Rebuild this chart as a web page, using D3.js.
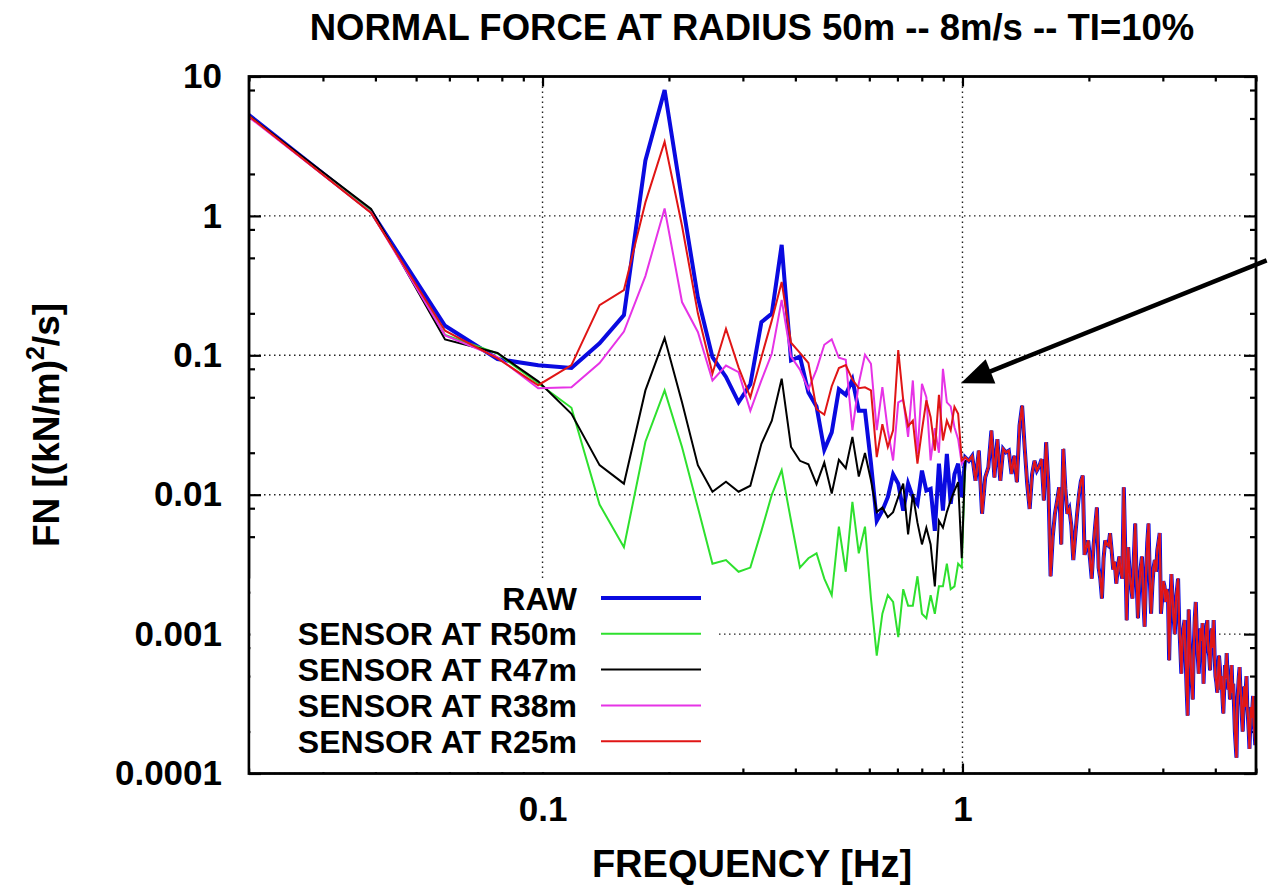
<!DOCTYPE html>
<html lang="en">
<head>
<meta charset="UTF-8">
<title>Normal force at radius 50m</title>
<style>
  body { margin: 0; background: #fff; }
  svg text { font-family: "Liberation Sans", Arial, Helvetica, sans-serif; font-weight: bold; fill: #000; }
</style>
</head>
<body>
<div id="chart"></div>
<script src="https://cdn.jsdelivr.net/npm/d3@7"></script>
<script>
  // frequency step of the spectra (Hz); sample k sits at k * DF
  const DF = 1 / 51.2;

  // k = 1..51 (up to ~1 Hz), one array per curve
  const rawLow = [5.6, 1.08, 0.163, 0.094, 0.085, 0.081, 0.122, 0.194, 2.5, 8.0,
    1.3, 0.26, 0.097, 0.070, 0.046, 0.062, 0.173, 0.199, 0.62, 0.092,
    0.098, 0.054, 0.043, 0.021, 0.028, 0.057, 0.052, 0.067, 0.040, 0.040,
    0.0168, 0.0065, 0.0077, 0.0096, 0.014, 0.012, 0.0077, 0.012, 0.0096, 0.0086,
    0.0149, 0.0107, 0.011, 0.0055, 0.0167, 0.0077, 0.0196, 0.0086, 0.014, 0.0167, 0.0096];

  const r50Low = [5.5, 1.08, 0.14, 0.103, 0.063, 0.042, 0.0085, 0.0042, 0.024, 0.056,
    0.022, 0.0081, 0.0032, 0.0034, 0.0028, 0.0030, 0.0055, 0.0100, 0.015, 0.0065,
    0.0030, 0.0035, 0.0038, 0.0025, 0.0019, 0.0059, 0.0028, 0.0089, 0.0038, 0.0059,
    0.0018, 0.0007, 0.0014, 0.0019, 0.0017, 0.00095, 0.0021, 0.0016, 0.0016, 0.0026,
    0.0014, 0.0013, 0.0019, 0.0014, 0.0022, 0.0022, 0.0032, 0.0021, 0.0022, 0.0032, 0.003];

  const r47Low = [5.5, 1.12, 0.130, 0.104, 0.065, 0.038, 0.0163, 0.012, 0.056, 0.133,
    0.046, 0.0163, 0.0105, 0.0124, 0.0105, 0.0116, 0.0232, 0.034, 0.068, 0.022,
    0.0175, 0.0165, 0.0119, 0.017, 0.0102, 0.0178, 0.0155, 0.026, 0.0135, 0.0199,
    0.0127, 0.0075, 0.0081, 0.0069, 0.0075, 0.0096, 0.012, 0.0052, 0.0101, 0.0063,
    0.0044, 0.0058, 0.0044, 0.0022, 0.0065, 0.0058, 0.0075, 0.0091, 0.0107, 0.0123, 0.0035];

  const r38Low = [5.4, 1.06, 0.139, 0.097, 0.058, 0.059, 0.088, 0.148, 0.37, 1.13,
    0.241, 0.147, 0.066, 0.0845, 0.0757, 0.040, 0.066, 0.103, 0.25, 0.098,
    0.079, 0.057, 0.079, 0.119, 0.130, 0.096, 0.093, 0.029, 0.063, 0.101,
    0.087, 0.029, 0.059, 0.029, 0.0176, 0.046, 0.048, 0.026, 0.066, 0.0196,
    0.0625, 0.050, 0.0176, 0.03, 0.02, 0.080, 0.046, 0.043, 0.0305, 0.025, 0.0167];

  const r25Low = [5.5, 1.05, 0.150, 0.095, 0.061, 0.085, 0.229, 0.294, 1.25, 3.4,
    0.85, 0.2, 0.074, 0.155, 0.082, 0.050, 0.097, 0.178, 0.336, 0.123,
    0.104, 0.088, 0.041, 0.0375, 0.060, 0.081, 0.085, 0.067, 0.058, 0.059,
    0.056, 0.0186, 0.032, 0.022, 0.029, 0.109, 0.0475, 0.031, 0.034, 0.0167,
    0.029, 0.0475, 0.036, 0.0207, 0.052, 0.0245, 0.034, 0.029, 0.0427, 0.038, 0.0176];

  // k = 52..256 (1 - 5 Hz): all curves lie on top of each other here
  const hiBand = [0.0185, 0.0175, 0.019, 0.0126, 0.0207, 0.0073, 0.0133, 0.0157, 0.0288, 0.0133,
    0.025, 0.0126, 0.0213, 0.0201, 0.0207, 0.0141, 0.019, 0.0123, 0.0313, 0.0435,
    0.0219, 0.012, 0.0079, 0.014, 0.0175, 0.0149, 0.016, 0.018, 0.0091, 0.0238,
    0.0119, 0.0026, 0.005, 0.0073, 0.009, 0.0113, 0.0044, 0.0213, 0.011, 0.0073,
    0.0079, 0.006, 0.0034, 0.005, 0.0073, 0.010, 0.0125, 0.0137, 0.0037, 0.0042,
    0.0047, 0.0035, 0.0025, 0.0042, 0.006, 0.0081, 0.003, 0.0025, 0.0018, 0.0035,
    0.0047, 0.0044, 0.0043, 0.0053, 0.004, 0.0029, 0.0033, 0.0023, 0.003, 0.0036,
    0.0028, 0.0025, 0.0113, 0.004, 0.00126, 0.0042, 0.0028, 0.0022, 0.0018, 0.0035,
    0.0062, 0.0025, 0.0013, 0.0022, 0.003, 0.0036, 0.0018, 0.00113, 0.0025, 0.0045,
    0.0062, 0.0025, 0.0014, 0.0022, 0.003, 0.0034, 0.0028, 0.004, 0.0046, 0.0053,
    0.0014, 0.0018, 0.0024, 0.0022, 0.0017, 0.0021, 0.0019, 0.00065, 0.0016, 0.0027,
    0.0018, 0.0013, 0.001, 0.0017, 0.0021, 0.0025, 0.0012, 0.0008, 0.00052, 0.0009,
    0.0011, 0.00126, 0.0007, 0.0004, 0.00026, 0.0015, 0.0009, 0.0006, 0.00045, 0.00034,
    0.0008, 0.0013, 0.0017, 0.001, 0.0007, 0.00052, 0.0008, 0.0011, 0.0009, 0.0012,
    0.00044, 0.0007, 0.0009, 0.0011, 0.00126, 0.0008, 0.0007, 0.00055, 0.0009, 0.0011,
    0.0008, 0.00126, 0.0007, 0.0005, 0.00045, 0.00038, 0.0005, 0.0007, 0.00058, 0.0004,
    0.0005, 0.00035, 0.00027, 0.0004, 0.0006, 0.00048, 0.00073, 0.0005, 0.0004, 0.00045,
    0.00034, 0.0005, 0.0006, 0.00038, 0.00044, 0.0003, 0.0002, 0.00016, 0.00013, 0.0003,
    0.0004, 0.0005, 0.00058, 0.0004, 0.00035, 0.00025, 0.0002, 0.0003, 0.00042, 0.0003,
    0.0004, 0.0005, 0.0003, 0.00025, 0.0002, 0.00015, 0.00022, 0.0003, 0.00025, 0.0003,
    0.00036, 0.00022, 0.0002, 0.00016, 0.00017];

  const seriesNames = ['RAW', 'SENSOR AT R50m', 'SENSOR AT R47m', 'SENSOR AT R38m', 'SENSOR AT R25m'];
  const seriesLow = [rawLow, r50Low, r47Low, r38Low, r25Low];
  const seriesColors = ['#0a0ae0', '#2ee02e', '#000000', '#e633e6', '#e01515'];
  const seriesWidths = [4, 2, 2, 2, 2];

  const xMajor = [0.1, 1];
  const yMajor = [0.0001, 0.001, 0.01, 0.1, 1, 10];

  const W = 1268, H = 888;
  const margin = {top: 76.5, right: 12, bottom: 114.5, left: 249};
  const width = W - margin.left - margin.right,
    height = H - margin.top - margin.bottom;

  const svg = d3.select('#chart').append('svg')
    .attr('width', W).attr('height', H);

  const g = svg.append('g')
    .attr('transform', 'translate(' + margin.left + ',' + margin.top + ')');

  const x = d3.scaleLog().domain([0.02, 5]).range([0, width]);
  const y = d3.scaleLog().domain([0.0001, 10]).range([height, 0]);

  // minor tick positions
  const xMinor = [];
  [0.01, 0.1, 1].forEach(function (d) {
    for (let m = 2; m <= 9; m++) {
      const v = +(d * m).toPrecision(3);
      if (v >= 0.02 && v <= 5) xMinor.push(v);
    }
  });
  const yMinor = [];
  [0.0001, 0.001, 0.01, 0.1, 1].forEach(function (d) {
    [2, 5, 8].forEach(function (m) { yMinor.push(+(d * m).toPrecision(3)); });
  });

  // grid
  const grid = g.append('g').attr('class', 'grid');
  grid.selectAll('line.gx').data(xMajor).enter().append('line')
    .attr('x1', d => x(d)).attr('x2', d => x(d))
    .attr('y1', 0).attr('y2', height);
  grid.selectAll('line.gy').data(yMajor).enter().append('line')
    .attr('x1', 0).attr('x2', width)
    .attr('y1', d => y(d)).attr('y2', d => y(d));
  grid.selectAll('line')
    .attr('stroke', '#222').attr('stroke-width', 1.4)
    .attr('stroke-dasharray', '1.5,3.5');

  // axes with inward ticks
  function styleAxis(sel) {
    sel.select('.domain').remove();
    sel.selectAll('.tick line').attr('stroke', '#000').attr('stroke-width', 2.2);
    sel.selectAll('.tick text')
      .style('font-family', '"Liberation Sans", Arial, sans-serif')
      .style('font-weight', 'bold').attr('fill', '#000');
  }

  g.append('g').attr('transform', 'translate(0,' + height + ')')
    .call(d3.axisBottom(x).tickValues(xMajor).tickSize(-10).tickPadding(23)
      .tickFormat(d3.format('')))
    .attr('font-size', 35)
    .call(styleAxis);
  g.append('g').attr('transform', 'translate(0,' + height + ')')
    .call(d3.axisBottom(x).tickValues(xMinor).tickSize(-5).tickFormat(''))
    .call(styleAxis);
  g.append('g')
    .call(d3.axisTop(x).tickValues(xMajor).tickSize(-10).tickFormat(''))
    .call(styleAxis);
  g.append('g')
    .call(d3.axisTop(x).tickValues(xMinor).tickSize(-5).tickFormat(''))
    .call(styleAxis);

  g.append('g')
    .call(d3.axisLeft(y).tickValues(yMajor).tickSize(-12).tickPadding(27)
      .tickFormat(d3.format('')))
    .attr('font-size', 35)
    .call(styleAxis);
  g.append('g')
    .call(d3.axisLeft(y).tickValues(yMinor).tickSize(-6).tickFormat(''))
    .call(styleAxis);
  g.append('g').attr('transform', 'translate(' + width + ',0)')
    .call(d3.axisRight(y).tickValues(yMajor).tickSize(-12).tickFormat(''))
    .call(styleAxis);
  g.append('g').attr('transform', 'translate(' + width + ',0)')
    .call(d3.axisRight(y).tickValues(yMinor).tickSize(-6).tickFormat(''))
    .call(styleAxis);

  // curves
  g.append('clipPath').attr('id', 'plotClip')
    .append('rect').attr('width', width).attr('height', height);

  const line = d3.line()
    .x(d => x(d.f))
    .y(d => y(d.v));

  const curves = g.append('g').attr('clip-path', 'url(#plotClip)');
  seriesNames.forEach(function (name, i) {
    const pts = seriesLow[i].concat(hiBand).map(function (v, j) {
      return {f: (j + 1) * DF, v: v};
    });
    curves.append('path')
      .datum(pts)
      .attr('fill', 'none')
      .attr('stroke', seriesColors[i])
      .attr('stroke-width', seriesWidths[i])
      .attr('stroke-linejoin', 'miter')
      .attr('d', line);
  });

  // border
  g.append('rect')
    .attr('width', width).attr('height', height)
    .attr('fill', 'none').attr('stroke', '#000').attr('stroke-width', 2.8);

  // legend (opaque box)
  const legend = g.append('g');
  legend.append('rect')
    .attr('x', 1.5).attr('y', 502)
    .attr('width', 466).attr('height', height - 503.5)
    .attr('fill', '#fff');
  seriesNames.forEach(function (name, i) {
    const ly = 521.5 + i * 35.8;
    legend.append('text')
      .attr('x', 328).attr('y', ly).attr('dy', '0.36em')
      .attr('text-anchor', 'end')
      .attr('font-size', 32)
      .text(name);
    legend.append('line')
      .attr('x1', 352).attr('x2', 452)
      .attr('y1', ly).attr('y2', ly)
      .attr('stroke', seriesColors[i])
      .attr('stroke-width', seriesWidths[i] === 4 ? 4 : 2);
  });

  // annotation arrow pointing at the 1 Hz region
  const arrowFrom = [5.3, 0.48], arrowTo = [0.991, 0.063];
  const ax0 = x(arrowFrom[0]), ay0 = y(arrowFrom[1]),
    ax1 = x(arrowTo[0]), ay1 = y(arrowTo[1]);
  const len = Math.hypot(ax1 - ax0, ay1 - ay0),
    ux = (ax1 - ax0) / len, uy = (ay1 - ay0) / len;
  const headL = 32, headW = 13;
  const bx = ax1 - ux * headL, by = ay1 - uy * headL;
  svg.append('line')
    .attr('x1', margin.left + ax0).attr('y1', margin.top + ay0)
    .attr('x2', margin.left + bx + ux * 4).attr('y2', margin.top + by + uy * 4)
    .attr('stroke', '#000').attr('stroke-width', 4.5);
  svg.append('polygon')
    .attr('points', [
      [ax1, ay1],
      [bx - uy * headW, by + ux * headW],
      [bx + uy * headW, by - ux * headW]
    ].map(p => (margin.left + p[0]) + ',' + (margin.top + p[1])).join(' '))
    .attr('fill', '#000');

  // titles
  svg.append('text')
    .attr('x', 752).attr('y', 40)
    .attr('text-anchor', 'middle')
    .attr('font-size', 36.5)
    .text('NORMAL FORCE AT RADIUS 50m -- 8m/s -- TI=10%');

  svg.append('text')
    .attr('x', 752).attr('y', 877)
    .attr('text-anchor', 'middle')
    .attr('font-size', 38)
    .text('FREQUENCY [Hz]');

  const yl = svg.append('text')
    .attr('transform', 'translate(59,425) rotate(-90)')
    .attr('text-anchor', 'middle')
    .attr('font-size', 37);
  yl.append('tspan').text('FN [(kN/m)');
  yl.append('tspan').attr('font-size', 25).attr('dy', -15).text('2');
  yl.append('tspan').attr('dy', 15).text('/s]');
</script>
</body>
</html>
